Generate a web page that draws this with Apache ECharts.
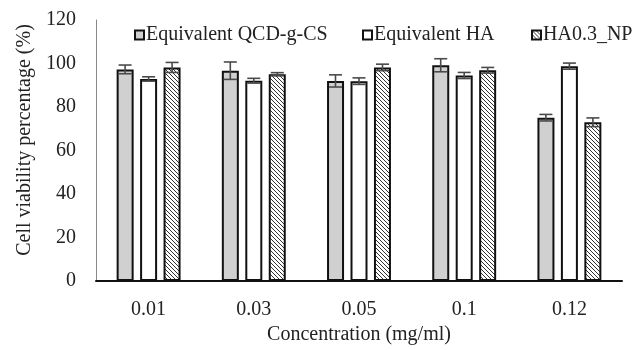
<!DOCTYPE html>
<html><head><meta charset="utf-8">
<script src="https://cdn.jsdelivr.net/npm/echarts@6/dist/echarts.min.js"></script>
<style>html,body{margin:0;padding:0;background:#fff}#c{width:633px;height:350px}</style>
</head><body><div id="c"></div>
<script>
var categories = ['0.01', '0.03', '0.05', '0.1', '0.12'];
var qcdValues = [97.3, 96.7, 92.0, 99.2, 75.1];
var qcdErrors = [2.0, 4.0, 2.8, 3.0, 1.5];
var haValues = [92.9, 92.1, 91.9, 94.5, 98.8];
var haErrors = [1.0, 1.1, 1.5, 1.4, 1.4];
var npValues = [98.2, 95.1, 98.2, 96.9, 73.0];
var npErrors = [2.3, 0.7, 1.5, 1.3, 2.0];
var seriesNames = ['Equivalent QCD-g-CS', 'Equivalent HA', 'HA0.3_NP'];
var yTicks = {min: 0, max: 120, interval: 20};
var xTitle = 'Concentration (mg/ml)';
var yTitle = 'Cell viability percentage (%)';

function hatch() {
  var c = document.createElement('canvas');
  c.width = 4; c.height = 4;
  var g = c.getContext('2d');
  g.fillStyle = '#fff'; g.fillRect(0, 0, 4, 4);
  g.strokeStyle = '#333'; g.lineWidth = 1;
  g.beginPath();
  g.moveTo(-1, -1); g.lineTo(5, 5);
  g.moveTo(-1, 3); g.lineTo(1, 5);
  g.moveTo(3, -1); g.lineTo(5, 1);
  g.stroke();
  return c;
}
var pattern = {image: hatch(), repeat: 'repeat'};

var font = '"Liberation Serif", "Times New Roman", serif';
var chart = echarts.init(document.getElementById('c'), null, {renderer: 'canvas'});

function errSeries(values, errors, offset) {
  return {
    type: 'custom',
    z: 10,
    silent: true,
    data: values.map(function (v, i) { return [i, v, errors[i]]; }),
    renderItem: function (params, api) {
      var i = api.value(0), v = api.value(1), e = api.value(2);
      var c = api.coord([i, v]);
      var t = api.coord([i, v + e]);
      var b = api.coord([i, v - e]);
      var x = c[0] + offset, hw = 6.5;
      var st = {stroke: '#4a4a4a', lineWidth: 1.6};
      return {type: 'group', children: [
        {type: 'line', shape: {x1: x, y1: t[1], x2: x, y2: b[1]}, style: st},
        {type: 'line', shape: {x1: x - hw, y1: t[1], x2: x + hw, y2: t[1]}, style: st},
        {type: 'line', shape: {x1: x - hw, y1: b[1], x2: x + hw, y2: b[1]}, style: st}
      ]};
    }
  };
}

function barSeries(name, values, color) {
  return {
    name: name, type: 'bar', data: values, barWidth: 17, barGap: '38%',
    itemStyle: {color: color, borderColor: '#111', borderWidth: 2}
  };
}

function legendAt(left, name) {
  return {
    top: 20, left: left, itemWidth: 9, itemHeight: 9, icon: 'rect', itemGap: 0,
    textStyle: {fontFamily: font, fontSize: 20, color: '#222', padding: [0, 0, 0, -3]},
    data: [name]
  };
}

chart.setOption({
  animation: false,
  textStyle: {fontFamily: font, color: '#222'},
  grid: {left: 96, right: 11, top: 20, bottom: 62},
  legend: [legendAt(129, seriesNames[0]), legendAt(357, seriesNames[1]), legendAt(526, seriesNames[2])],
  graphic: [{
    type: 'text', x: 25, y: 140, rotation: Math.PI / 2,
    style: {text: yTitle, font: '20px ' + font, fill: '#222', textAlign: 'center', textVerticalAlign: 'middle'}
  }],
  xAxis: {
    type: 'category', data: categories,
    name: xTitle, nameLocation: 'middle', nameGap: 43,
    nameTextStyle: {fontFamily: font, fontSize: 20, color: '#222'},
    axisLine: {lineStyle: {color: '#111', width: 2}},
    axisTick: {show: false},
    axisLabel: {fontFamily: font, fontSize: 20, color: '#222', margin: 19}
  },
  yAxis: {
    type: 'value', min: yTicks.min, max: yTicks.max, interval: yTicks.interval,
    axisLine: {show: true, lineStyle: {color: '#888', width: 1}},
    axisTick: {show: false},
    splitLine: {show: false},
    axisLabel: {fontFamily: font, fontSize: 20, color: '#222', margin: 20}
  },
  series: [
    barSeries(seriesNames[0], qcdValues, '#d0d0d0'),
    barSeries(seriesNames[1], haValues, '#ffffff'),
    barSeries(seriesNames[2], npValues, pattern),
    errSeries(qcdValues, qcdErrors, -23.5),
    errSeries(haValues, haErrors, 0),
    errSeries(npValues, npErrors, 23.5)
  ]
});
</script></body></html>
